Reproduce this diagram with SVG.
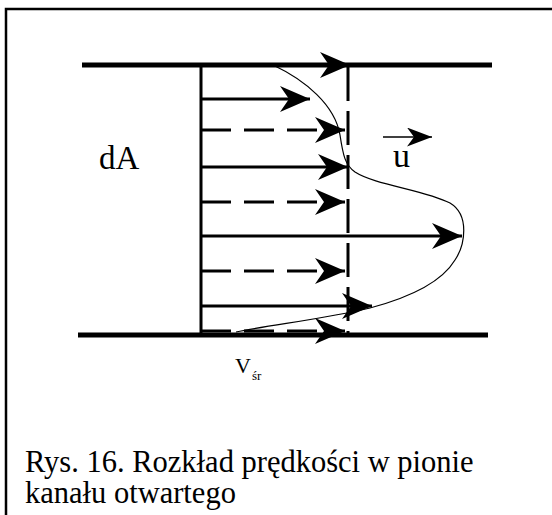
<svg xmlns="http://www.w3.org/2000/svg" width="552" height="515" viewBox="0 0 552 515">
<defs>
<style>
.t{font-family:"Liberation Serif","Times New Roman",serif;fill:#000}
.ln{stroke:#000;stroke-width:3;fill:none}
.ds{stroke:#000;stroke-width:3;fill:none;stroke-dasharray:30 13}
</style>
<marker id="ah" markerUnits="userSpaceOnUse" viewBox="0 0 30 26" refX="30" refY="13" markerWidth="30" markerHeight="26" orient="auto">
<path d="M30,13 L0,0 L9,13 L0,26 Z" fill="#000"/>
</marker>
<marker id="ahs" markerUnits="userSpaceOnUse" viewBox="0 0 25 19" refX="25" refY="9.5" markerWidth="25" markerHeight="19" orient="auto">
<path d="M25,9.5 L0,0 L7,9.5 L0,19 Z" fill="#000"/>
</marker>
</defs>
<rect width="552" height="515" fill="#fff"/>
<path d="M6,515 V9 H552" fill="none" stroke="#000" stroke-width="2.5"/>
<g id="channel">
<line x1="82" y1="65" x2="492" y2="65" stroke="#000" stroke-width="5"/>
<line x1="78" y1="335" x2="488" y2="335" stroke="#000" stroke-width="5"/>
<line x1="201" y1="64" x2="201" y2="334" class="ln"/>
<line x1="348" y1="67" x2="348" y2="334" class="ln" style="stroke-dasharray:34 10"/>
</g>
<g id="connectors">
<line x1="201" y1="65" x2="350" y2="65" class="ln" marker-end="url(#ah)"/>
<line x1="201" y1="99" x2="310" y2="99" class="ln" marker-end="url(#ah)"/>
<line x1="201" y1="130" x2="345" y2="130" class="ds" marker-end="url(#ah)"/>
<line x1="201" y1="167" x2="348" y2="167" class="ln" marker-end="url(#ah)"/>
<line x1="201" y1="202" x2="345" y2="202" class="ds" marker-end="url(#ah)"/>
<line x1="201" y1="236" x2="462" y2="236" class="ln" marker-end="url(#ah)"/>
<line x1="201" y1="271" x2="345" y2="271" class="ds" marker-end="url(#ah)"/>
<line x1="201" y1="306" x2="372" y2="306" class="ln" marker-end="url(#ah)"/>
<line x1="201" y1="331" x2="345" y2="331" class="ds" marker-end="url(#ah)"/>
</g>
<g id="profile">
<path d="M273,65 C305,80 335,105 340,135 C343,155 345,165 355,172 C375,185 425,190 450,203 C470,215 465,245 455,260 C440,285 400,300 370,308 C330,318 270,325 236,332" fill="none" stroke="#000" stroke-width="1.2"/>
</g>
<g id="label-dA"><text class="t" x="99" y="169" font-size="33">dA</text></g>
<g id="label-u">
<line x1="383" y1="137" x2="432" y2="137" stroke="#000" stroke-width="1.5" marker-end="url(#ahs)"/>
<text class="t" x="393" y="167" font-size="34">u</text>
</g>
<g id="label-v"><text class="t" x="235" y="373" font-size="22">V</text><text class="t" x="252" y="380" font-size="13">śr</text></g>
<g id="caption">
<text class="t" x="25" y="472" font-size="30.5">Rys. 16. Rozkład prędkości w pionie</text>
<text class="t" x="25" y="503" font-size="30.5">kanału otwartego</text>
</g>
</svg>
